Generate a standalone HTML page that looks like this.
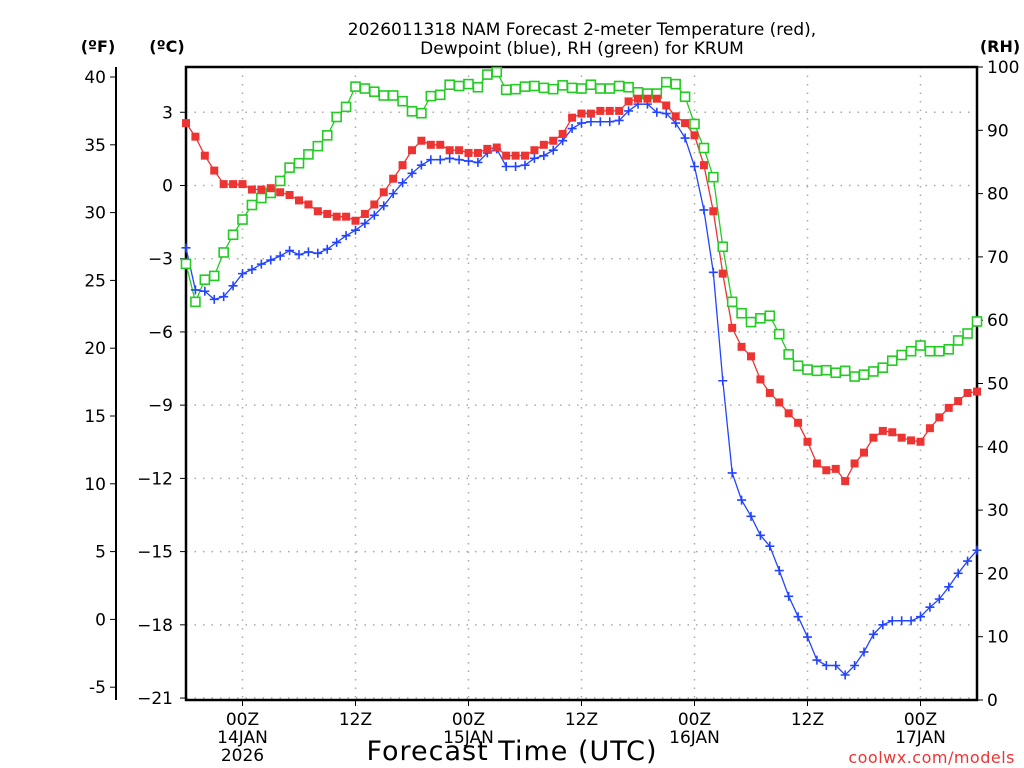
<!DOCTYPE html>
<html><head><meta charset="utf-8"><style>
html,body{margin:0;padding:0;background:#fff;}
svg{display:block;font-family:"DejaVu Sans","Liberation Sans",sans-serif;}
</style></head><body>
<svg id="chart" width="1024" height="768" viewBox="0 0 1024 768" xmlns="http://www.w3.org/2000/svg">
<rect x="0" y="0" width="1024" height="768" fill="#fff"/>
<text x="582" y="35" font-size="17" text-anchor="middle">2026011318 NAM Forecast 2-meter Temperature (red),</text>
<text x="582" y="54" font-size="17" text-anchor="middle">Dewpoint (blue), RH (green) for KRUM</text>
<text x="98" y="52" font-size="16" font-weight="bold" text-anchor="middle">(ºF)</text>
<text x="167" y="52" font-size="16" font-weight="bold" text-anchor="middle">(ºC)</text>
<text x="1000" y="52" font-size="16" font-weight="bold" text-anchor="middle">(RH)</text>
<text x="512" y="760" font-size="27" text-anchor="middle" letter-spacing="1">Forecast Time (UTC)</text>
<text x="1015" y="763" font-size="16" fill="#ee3333" text-anchor="end" letter-spacing="0.5">coolwx.com/models</text>
<g id="grid"></g><g id="axes"></g><g id="series"></g>
</svg>
<script>
const hours = Array.from({length:85},(_,i)=>i); // forecast hour from 18Z 13JAN
const tempF = [36.6,35.6,34.2,33.1,32.1,32.1,32.1,31.7,31.7,31.8,31.5,31.3,30.9,30.6,30.1,29.9,29.7,29.7,29.4,29.9,30.6,31.5,32.5,33.5,34.6,35.3,35.0,35.0,34.6,34.6,34.4,34.4,34.7,34.8,34.2,34.2,34.2,34.6,35.0,35.3,35.8,37.0,37.3,37.3,37.5,37.5,37.5,38.2,38.4,38.4,38.4,37.9,37.1,36.6,35.7,33.5,30.1,25.5,21.5,20.1,19.4,17.7,16.7,16.0,15.2,14.5,13.1,11.5,11.0,11.1,10.2,11.5,12.3,13.4,13.9,13.8,13.4,13.2,13.1,14.1,14.9,15.6,16.1,16.7,16.8];
const dewF = [27.4,24.3,24.2,23.6,23.8,24.6,25.5,25.8,26.2,26.5,26.8,27.2,26.9,27.1,27.0,27.3,27.8,28.3,28.7,29.2,29.8,30.5,31.4,32.2,32.9,33.5,33.9,33.9,34.0,33.9,33.8,33.7,34.4,34.7,33.4,33.4,33.5,34.0,34.2,34.6,35.3,36.2,36.6,36.7,36.7,36.7,36.8,37.5,38.0,38.0,37.4,37.3,36.6,35.5,33.4,30.2,25.6,17.6,10.8,8.8,7.6,6.2,5.4,3.6,1.7,0.2,-1.3,-3.0,-3.4,-3.4,-4.1,-3.4,-2.4,-1.1,-0.4,-0.1,-0.1,-0.1,0.2,0.9,1.5,2.4,3.4,4.3,5.1];
const rh = [68.9,62.9,66.4,67.0,70.7,73.5,75.9,78.2,79.3,80.1,82.0,84.1,84.8,86.2,87.5,89.2,92.1,93.7,96.9,96.6,96.1,95.5,95.5,94.6,93.0,92.7,95.4,95.6,97.2,97.0,97.3,96.8,98.8,99.2,96.4,96.5,96.9,97.0,96.7,96.5,97.1,96.7,96.6,97.2,96.6,96.6,97.0,96.8,96.0,95.8,95.8,97.6,97.3,95.3,91.0,87.2,82.6,71.6,62.9,61.1,59.7,60.3,60.7,57.8,54.6,52.8,52.2,52.0,52.1,51.7,52.0,51.1,51.4,51.9,52.5,53.6,54.5,55.1,56.0,55.1,55.1,55.4,56.8,57.9,59.8];
const fTicks = [40,35,30,25,20,15,10,5,0,-5];
const cTicks = [3,0,-3,-6,-9,-12,-15,-18,-21];
const rhTicks = [100,90,80,70,60,50,40,30,20,10,0];
const timeTickHours = [6,18,30,42,54,66,78];
const timeTickLabels = [["00Z","14JAN","2026"],["12Z"],["00Z","15JAN"],["12Z"],["00Z","16JAN"],["12Z"],["00Z","17JAN"]];

const X0=186,X1=977,YT=67,YB=700;
const xs = h => X0 + (X1-X0)*h/84;
const yF = f => 77 + (40-f)*13.56;
const yC = c => yF(c*1.8+32);
const yRH = r => YB - (YB-YT)*r/100;
const NS="http://www.w3.org/2000/svg";
function mk(tag,attrs,parent,text){const e=document.createElementNS(NS,tag);for(const k in attrs)e.setAttribute(k,attrs[k]);if(text!==undefined)e.textContent=text;parent.appendChild(e);return e;}
const grid=document.getElementById('grid'),axes=document.getElementById('axes'),series=document.getElementById('series');

cTicks.forEach(c=>{const y=yC(c);
 const g=mk('line',{x1:X0,x2:X1,y1:y,y2:y,stroke:'#aaa','stroke-width':1.5,'stroke-dasharray':'1.5 7'},grid);
 
 
 mk('line',{x1:X0-6,x2:X0,y1:y,y2:y,stroke:'#000','stroke-width':1},axes);
 const t=mk('text',{x:X0-13,y:y+6,'font-size':17,'text-anchor':'end'},axes,(c<0?'\u2212':'')+Math.abs(c));
 
 
});
timeTickHours.forEach((h,i)=>{const x=xs(h);
 const g=mk('line',{x1:x,x2:x,y1:YT,y2:YB,stroke:'#aaa','stroke-width':1.5,'stroke-dasharray':'1.5 7'},grid);
 
 
 mk('line',{x1:x,x2:x,y1:YB,y2:YB+6,stroke:'#000','stroke-width':1},axes);
 timeTickLabels[i].forEach((s,j)=>{const t=mk('text',{x:x,y:725+j*18,'font-size':17,'text-anchor':'middle'},axes,s);
  
  });
});
// F axis
mk('line',{x1:116,x2:116,y1:YT,y2:YB,stroke:'#000','stroke-width':2},axes);
fTicks.forEach(f=>{const y=yF(f);
 mk('line',{x1:110,x2:116,y1:y,y2:y,stroke:'#000','stroke-width':1},axes);
 const t=mk('text',{x:106,y:y+6,'font-size':17,'text-anchor':'end'},axes,(f<0?'-':'')+Math.abs(f));
 
 
});
rhTicks.forEach(r=>{const y=yRH(r);
 mk('line',{x1:X1,x2:X1+6,y1:y,y2:y,stroke:'#000','stroke-width':1},axes);
 const t=mk('text',{x:987,y:y+6,'font-size':17,'text-anchor':'start'},axes,String(r));
 
 
});
const box=mk('rect',{x:X0,y:YT,width:X1-X0,height:YB-YT,fill:'none',stroke:'#000','stroke-width':2.5},axes);



function line(vals,yfn,color,name){
 const pts=vals.map((v,i)=>xs(hours[i]).toFixed(1)+','+yfn(v).toFixed(1)).join(' ');
 const p=mk('polyline',{points:pts,fill:'none',stroke:color,'stroke-width':1.3},series);
 
 
}
line(rh,yRH,'#22cc22','rh-line');
line(dewF,yF,'#2244ff','dewpoint-line');
line(tempF,yF,'#ee3333','temperature-line');
rh.forEach((v,i)=>{const x=xs(hours[i]),y=yRH(v);
 const m=mk('rect',{x:x-4.5,y:y-4.5,width:9,height:9,fill:'#fff',stroke:'#22cc22','stroke-width':1.6},series);
 
 });
dewF.forEach((v,i)=>{const x=xs(hours[i]),y=yF(v);
 const m=mk('path',{d:`M${x-4.5},${y}H${x+4.5}M${x},${y-4.5}V${y+4.5}`,stroke:'#2244ff','stroke-width':1.6},series);
 
 });
tempF.forEach((v,i)=>{const x=xs(hours[i]),y=yF(v);
 const m=mk('rect',{x:x-4,y:y-4,width:8,height:8,fill:'#ee3333'},series);
 
 });
</script>
</body></html>
